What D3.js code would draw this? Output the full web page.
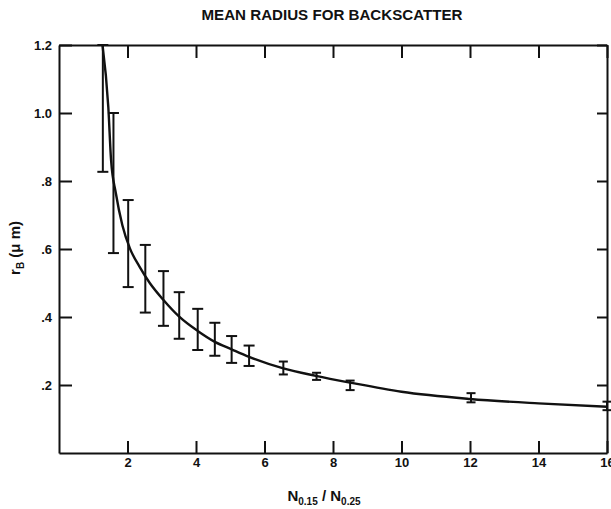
<!DOCTYPE html>
<html>
<head>
<meta charset="utf-8">
<script src="https://cdn.jsdelivr.net/npm/d3@7"></script>
<style>
  html, body { margin: 0; padding: 0; background: #fff; }
  svg { display: block; }
  text { font-family: "Liberation Sans", Arial, sans-serif; fill: #111; }
</style>
</head>
<body>
<script>
// ---- Data ----
const titleText = "MEAN RADIUS FOR BACKSCATTER";
const xTickValues = [2, 4, 6, 8, 10, 12, 14, 16];
const xTickLabels = ["2", "4", "6", "8", "10", "12", "14", "16"];
const yTickValues = [0.2, 0.4, 0.6, 0.8, 1.0, 1.2];
const yTickLabels = [".2", ".4", ".6", ".8", "1.0", "1.2"];

// error bars: ratio, lower, upper
const barX  = [1.28, 1.59, 2.02, 2.52, 3.05, 3.51, 4.05, 4.55, 5.04, 5.55, 6.55, 7.52, 8.5, 12.03, 16.0];
const barLo = [0.827, 0.588, 0.488, 0.413, 0.374, 0.336, 0.303, 0.286, 0.265, 0.256, 0.231, 0.215, 0.185, 0.149, 0.126];
const barHi = [1.2, 1.0, 0.744, 0.612, 0.535, 0.473, 0.424, 0.383, 0.344, 0.316, 0.269, 0.236, 0.213, 0.176, 0.151];

// fitted curve
const curveX = [1.27, 1.44, 1.52, 1.66, 1.85, 2.07, 2.35, 2.65, 3.05, 3.51, 4.05, 4.55, 5.04, 5.55, 6.55, 7.5, 8.5, 10.0, 12.0, 14.0, 16.0];
const curveY = [1.2, 1.017, 0.862, 0.764, 0.67, 0.602, 0.548, 0.5, 0.45, 0.401, 0.359, 0.327, 0.305, 0.283, 0.249, 0.227, 0.207, 0.18, 0.159, 0.146, 0.136];

// ---- Layout ----
const W = 611, H = 509;
const svg = d3.select("body").append("svg").attr("width", W).attr("height", H);

const x = d3.scaleLinear().domain([0, 16]).range([59, 607]);
const y = d3.scaleLinear().domain([0, 1.2]).range([453, 45]);

const ink = "#111";

// Title
svg.append("text")
  .attr("x", 332).attr("y", 20)
  .attr("text-anchor", "middle")
  .attr("font-size", 15).attr("font-weight", "bold")
  .attr("textLength", 261).attr("lengthAdjust", "spacingAndGlyphs")
  .text(titleText);

function styleAxis(g) {
  g.select(".domain").attr("stroke", ink).attr("stroke-width", 2);
  g.selectAll(".tick line").attr("stroke", ink).attr("stroke-width", 2);
  g.selectAll(".tick text").attr("fill", ink).attr("font-family", '"Liberation Sans", Arial, sans-serif');
}

// Bottom axis
const gB = svg.append("g").attr("transform", `translate(0,${y(0)})`)
  .call(d3.axisBottom(x).tickValues(xTickValues)
    .tickFormat((d, i) => xTickLabels[i]).tickSizeInner(-12).tickSizeOuter(0).tickPadding(5));
styleAxis(gB);
gB.selectAll(".tick text").attr("font-size", 13).attr("font-weight", "bold");

// Top axis
const gT = svg.append("g").attr("transform", `translate(0,${y(1.2)})`)
  .call(d3.axisTop(x).tickValues(xTickValues).tickFormat(() => "").tickSizeInner(-13).tickSizeOuter(0));
styleAxis(gT);

// Left axis
const gL = svg.append("g").attr("transform", `translate(${x(0)},0)`)
  .call(d3.axisLeft(y).tickValues(yTickValues)
    .tickFormat((d, i) => yTickLabels[i]).tickSizeInner(-13).tickSizeOuter(0).tickPadding(7));
styleAxis(gL);
gL.selectAll(".tick text").attr("font-size", 13).attr("font-weight", "bold");

// Right axis
const gR = svg.append("g").attr("transform", `translate(${x(16)},0)`)
  .call(d3.axisRight(y).tickValues(yTickValues).tickFormat(() => "").tickSizeInner(-10).tickSizeOuter(0));
styleAxis(gR);

// Curve
const pts = curveX.map((v, i) => [v, curveY[i]]);
svg.append("path")
  .datum(pts)
  .attr("fill", "none").attr("stroke", ink).attr("stroke-width", 2.4)
  .attr("d", d3.line().x(d => x(d[0])).y(d => y(d[1])).curve(d3.curveMonotoneX));

// Error bars
const bars = barX.map((v, i) => ({ x: v, lo: barLo[i], hi: barHi[i] }));
const gE = svg.append("g").attr("stroke", ink).attr("stroke-width", 2);
gE.selectAll("line.v").data(bars).join("line").attr("class", "v")
  .attr("x1", d => x(d.x)).attr("x2", d => x(d.x))
  .attr("y1", d => y(d.lo)).attr("y2", d => y(d.hi));
const capW = d => (d.hi - d.lo > 0.05 ? 5.5 : 4.5);
gE.selectAll("line.capH").data(bars).join("line").attr("class", "capH")
  .attr("x1", d => x(d.x) - capW(d)).attr("x2", d => x(d.x) + capW(d))
  .attr("y1", d => y(d.hi)).attr("y2", d => y(d.hi));
gE.selectAll("line.capL").data(bars).join("line").attr("class", "capL")
  .attr("x1", d => x(d.x) - capW(d)).attr("x2", d => x(d.x) + capW(d))
  .attr("y1", d => y(d.lo)).attr("y2", d => y(d.lo));

// X axis label: N0.15 / N0.25
const xl = svg.append("text")
  .attr("x", 324).attr("y", 501)
  .attr("text-anchor", "middle")
  .attr("font-size", 15).attr("font-weight", "bold");
xl.append("tspan").text("N");
xl.append("tspan").attr("font-size", 10).attr("dy", 4).text("0.15");
xl.append("tspan").attr("dy", -4).text(" / N");
xl.append("tspan").attr("font-size", 10).attr("dy", 4).text("0.25");

// Y axis label: rB (μm)
const yl = svg.append("text")
  .attr("transform", "translate(20,248) rotate(-90)")
  .attr("text-anchor", "middle")
  .attr("font-size", 15).attr("font-weight", "bold");
yl.append("tspan").text("r");
yl.append("tspan").attr("font-size", 10).attr("dy", 4).text("B");
yl.append("tspan").attr("dy", -4).text(" (μ m)");
</script>
</body>
</html>
